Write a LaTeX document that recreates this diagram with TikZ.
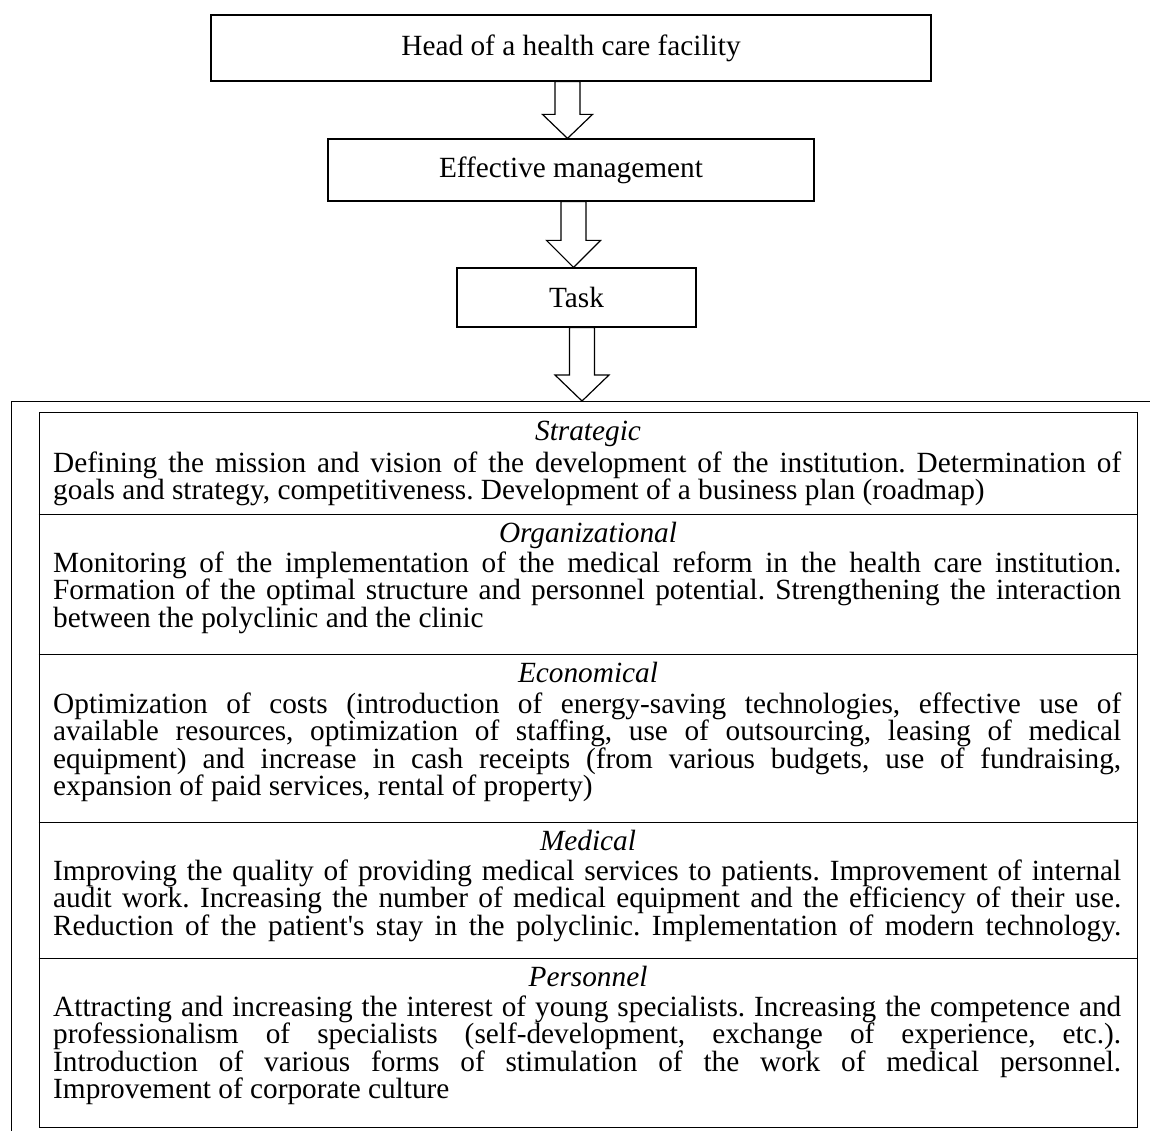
\documentclass[tikz,border=0pt]{standalone}
\usepackage{fontspec}
\setmainfont{Liberation Serif}
\usetikzlibrary{calc}

\newcommand\bodyfont{\fontsize{29.3}{27.5}\selectfont}
\newcommand\bodytext[1]{\parbox[t]{1068pt}{\bodyfont\frenchspacing\hbadness=10000 #1}}
% hollow block arrow: #1 top centre, #2 tip, #3 head length, #4 head half-width
\newcommand\blockarrow[4]{%
  \draw[barrow] ($(#1)+(-12.5,0)$) -- ($(#2)+(-12.5,-#3)$) -- ($(#2)+(-#4,-#3)$)
    -- (#2) -- ($(#2)+(#4,-#3)$) -- ($(#2)+(12.5,-#3)$) -- ($(#1)+(12.5,0)$) -- cycle;}

\begin{document}
\begin{tikzpicture}[x=1pt,y=-1pt,
  box/.style={draw, line width=1.2pt, inner sep=0pt, font=\bodyfont},
  barrow/.style={draw, line width=1.2pt, line join=miter, fill=white},
  rule/.style={line width=1pt},
  rowhead/.style={anchor=base, inner sep=0pt, font=\bodyfont\itshape},
  rowbody/.style={anchor=base west, inner sep=0pt}]

\useasboundingbox (0,0) rectangle (1150,1131);

% chain of boxes
\node[box, minimum width=720pt, minimum height=66pt] (chief) at (571,48) {Head of a health care facility};
\node[box, minimum width=486pt, minimum height=62pt] (mgmt) at (571,170) {Effective management};
\node[box, minimum width=239pt, minimum height=59pt] (task) at (576.5,297.5) {Task};

% outer frame around the list of tasks
\coordinate (frameTL) at (11,401);
\coordinate (frameBL) at (11,1131);
\coordinate (frameTR) at (1150,401);
\draw[rule] (frameBL) -- (frameTL) -- (frameTR);

% table of task groups
\node[draw, rule, inner sep=0pt, minimum width=1098pt, minimum height=715pt] (tbl) at (588,769.5) {};
\foreach \yy in {514,654,822,958}
  \draw[rule] (tbl.west |- 0,\yy) -- (tbl.east |- 0,\yy);

% arrow axes
\coordinate (ax1) at (567.5,0);
\coordinate (ax2) at (573.5,0);
\coordinate (ax3) at (582,0);
\blockarrow{chief.south -| ax1}{mgmt.north -| ax1}{24}{25}
\blockarrow{mgmt.south -| ax2}{task.north -| ax2}{27}{27}
\blockarrow{task.south -| ax3}{frameTL -| ax3}{26}{27}

% Strategic
\node[rowhead] (hS) at (588,440) {Strategic};
\node[rowbody] (bS) at (53,472) {\bodytext{Defining the mission and vision of the development of the institution. Determination of\linebreak
goals and strategy, competitiveness. Development of a business plan (roadmap)}};

% Organizational
\node[rowhead] (hO) at (588,542) {Organizational};
\node[rowbody] (bO) at (53,572) {\bodytext{Monitoring of the implementation of the medical reform in the health care institution.\linebreak
Formation of the optimal structure and personnel potential. Strengthening the interaction\linebreak
between the polyclinic and the clinic}};

% Economical
\node[rowhead] (hE) at (588,682) {Economical};
\node[rowbody] (bE) at (53,713) {\bodytext{Optimization of costs (introduction of energy-saving technologies, effective use of\linebreak
available resources, optimization of staffing, use of outsourcing, leasing of medical\linebreak
equipment) and increase in cash receipts (from various budgets, use of fundraising,\linebreak
expansion of paid services, rental of property)}};

% Medical (last line set full width too)
\node[rowhead] (hM) at (588,850) {Medical};
\node[rowbody] (bM) at (53,880) {\bodytext{\parfillskip=0pt Improving the quality of providing medical services to patients. Improvement of internal\linebreak
audit work. Increasing the number of medical equipment and the efficiency of their use.\linebreak
Reduction of the patient\textquotesingle s stay in the polyclinic. Implementation of modern technology.}};

% Personnel
\node[rowhead] (hP) at (588,986) {Personnel};
\node[rowbody] (bP) at (53,1016) {\bodytext{Attracting and increasing the interest of young specialists. Increasing the competence and\linebreak
professionalism of specialists (self-development, exchange of experience, etc.).\linebreak
Introduction of various forms of stimulation of the work of medical personnel.\linebreak
Improvement of corporate culture}};

\end{tikzpicture}
\end{document}
